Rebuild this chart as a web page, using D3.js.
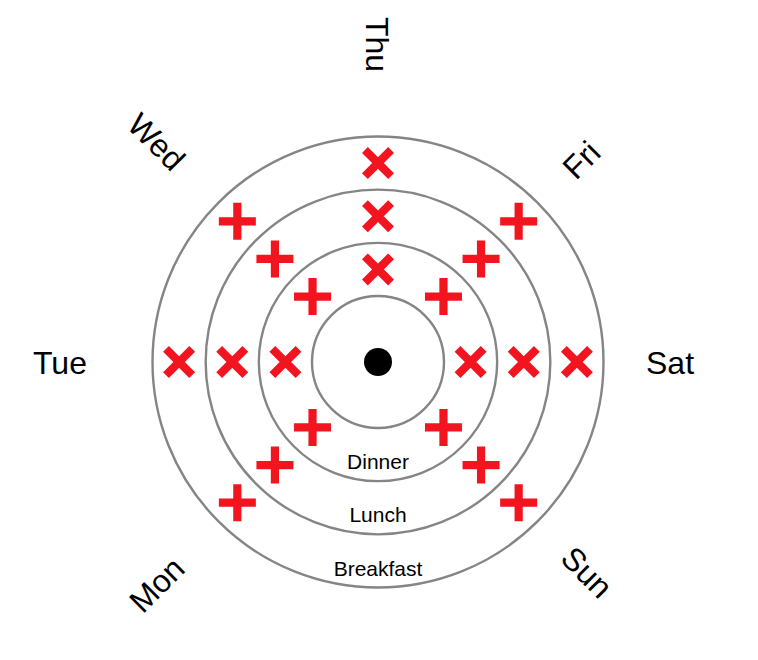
<!DOCTYPE html>
<html>
<head>
<meta charset="utf-8">
<script src="https://cdn.jsdelivr.net/npm/d3@7"></script>
<style>
  html, body { margin: 0; padding: 0; background: #fff; }
  svg { display: block; font-family: "Liberation Sans", Arial, Helvetica, sans-serif; }
</style>
</head>
<body>
<svg id="chart" width="758" height="660"></svg>
<script>
// ---- data ----
const days = ["Mon", "Tue", "Wed", "Thu", "Fri", "Sat", "Sun"];
const meals = ["Dinner", "Lunch", "Breakfast"]; // inner -> outer
const breakfastMarks = ["+", "x", "+", "x", "+", "x", "+"];
const lunchMarks     = ["+", "x", "+", "x", "+", "x", "+"];
const dinnerMarks    = ["+", "x", "+", "x", "+", "x", "+"];

const marksByMeal = { Breakfast: breakfastMarks, Lunch: lunchMarks, Dinner: dinnerMarks };

// ---- layout ----
const W = 758, H = 660;
const cx = 378, cy = 362;
const innerR = 66, outerR = 225.5;

const svg = d3.select("#chart");
const g = svg.append("g").attr("transform", `translate(${cx},${cy})`);

const rScale = d3.scaleBand().domain(meals).range([innerR, outerR]).paddingInner(0).paddingOuter(0);
const aScale = d3.scalePoint().domain(days).range([135, 405]); // degrees, clockwise from +x
const rad = d => d * Math.PI / 180;

// circles
const radii = [innerR].concat(meals.map(m => rScale(m) + rScale.bandwidth()));
g.selectAll("circle.ring").data(radii).join("circle")
  .attr("class", "ring")
  .attr("r", d => d)
  .attr("fill", "none")
  .attr("stroke", "#858585")
  .attr("stroke-width", 2.4);

// center dot
g.append("circle").attr("r", 14).attr("fill", "#000");

// meal labels at the bottom of each ring
g.selectAll("text.meal").data(meals).join("text")
  .attr("class", "meal")
  .attr("x", 0)
  .attr("y", d => rScale(d) + rScale.bandwidth() - 12)
  .attr("text-anchor", "middle")
  .attr("font-size", 21)
  .attr("fill", "#000")
  .text(d => d);

// markers
const markData = [];
meals.forEach(m => days.forEach((d, i) => markData.push({ meal: m, day: d, mark: marksByMeal[m][i] })));
const half = 18.5;
const plusPath = `M${-half},0L${half},0M0,${-half}L0,${half}`;
g.selectAll("path.mark").data(markData).join("path")
  .attr("class", "mark")
  .attr("d", plusPath)
  .attr("transform", d => {
    const r = rScale(d.meal) + rScale.bandwidth() / 2;
    const a = rad(aScale(d.day));
    return `translate(${r * Math.cos(a)},${r * Math.sin(a)}) rotate(${d.mark === "x" ? 45 : 0})`;
  })
  .attr("fill", "none")
  .attr("stroke", "#f2141f")
  .attr("stroke-width", 8.2);

// day labels
g.selectAll("text.day").data(days).join("text")
  .attr("class", "day")
  .attr("font-size", 32)
  .attr("fill", "#000")
  .attr("dy", "0.38em")
  .each(function(d) {
    const ang = aScale(d);
    const flip = ang > 90 && ang <= 270;
    const r = flip ? 345 : 268;
    const a = rad(ang);
    d3.select(this)
      .attr("text-anchor", "start")
      .attr("transform", `translate(${r * Math.cos(a)},${r * Math.sin(a)}) rotate(${flip ? ang - 180 : ang})`);
  })
  .text(d => d);
</script>
</body>
</html>
